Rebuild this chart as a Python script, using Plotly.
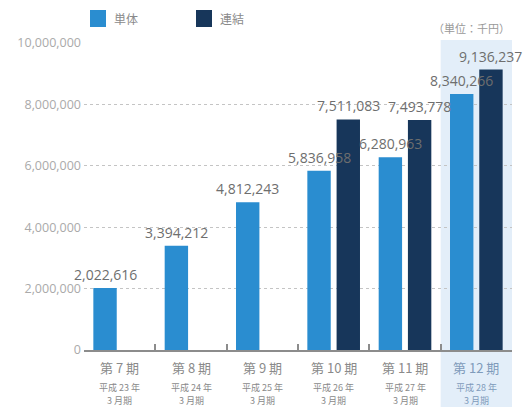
import plotly.graph_objects as go

# ---- data ----
periods = ["第 7 期", "第 8 期", "第 9 期", "第 10 期", "第 11 期", "第 12 期"]
fiscal_years = ["平成 23 年", "平成 24 年", "平成 25 年", "平成 26 年", "平成 27 年", "平成 28 年"]
fiscal_month = ["3 月期", "3 月期", "3 月期", "3 月期", "3 月期", "3 月期"]
standalone = [2022616, 3394212, 4812243, 5836958, 6280963, 8340266]
consolidated = [None, None, None, 7511083, 7493778, 9136237]
y_ticks = [0, 2000000, 4000000, 6000000, 8000000, 10000000]
series_names = ["単体", "連結"]
unit_label = "（単位：千円）"
highlight_period = "第 12 期"

# ---- styles ----
C_SINGLE = "#2a8dd0"
C_CONSOL = "#17365a"
C_HIGHLIGHT = "#e3eef9"
W, H = 526, 407
ML, MR, MT, MB = 84, 14, 43, 57
PW, PH = W - ML - MR, H - MT - MB
BARGAP, GROUPGAP = 0.18, 0.2
CJK = "Noto Sans CJK JP"
NUM = "Open Sans"


def fmt(v):
    return "" if v is None else f"{v:,}"


def px_x(px):
    return (px - ML) / PW


def px_y(py):
    return (H - MB - py) / PH


fig = go.Figure()
series = [standalone, consolidated]
colors = [C_SINGLE, C_CONSOL]
for name, vals, col in zip(series_names, series, colors):
    fig.add_trace(go.Bar(
        x=periods, y=vals, name=name,
        marker=dict(color=col, line=dict(width=0)),
        hoverinfo="x+y",
    ))

hi = periods.index(highlight_period)
shapes = [
    dict(type="rect", xref="x", yref="paper", x0=hi - 0.5, x1=hi + 0.5,
         y0=px_y(H), y1=px_y(40), fillcolor=C_HIGHLIGHT, line=dict(width=0),
         layer="below"),
    # legend swatches
    dict(type="rect", xref="paper", yref="paper", x0=px_x(90), x1=px_x(106),
         y0=px_y(27), y1=px_y(10), fillcolor=C_SINGLE, line=dict(width=0)),
    dict(type="rect", xref="paper", yref="paper", x0=px_x(196), x1=px_x(212),
         y0=px_y(27), y1=px_y(10), fillcolor=C_CONSOL, line=dict(width=0)),
]

annotations = [
    dict(xref="paper", yref="paper", x=px_x(112), y=px_y(19), text=series_names[0],
         showarrow=False, xanchor="left", yanchor="middle",
         font=dict(family=CJK, size=12, color="#8a8a8a")),
    dict(xref="paper", yref="paper", x=px_x(218), y=px_y(19), text=series_names[1],
         showarrow=False, xanchor="left", yanchor="middle",
         font=dict(family=CJK, size=12, color="#8a8a8a")),
    dict(xref="paper", yref="paper", x=px_x(512), y=px_y(28), text=unit_label,
         showarrow=False, xanchor="right", yanchor="middle",
         font=dict(family=CJK, size=11, color="#999999")),
]

# value labels above bars (drawn on top of all bars)
slot = PW / len(periods) * (1 - BARGAP) / len(series)
for s, vals in enumerate(series):
    offset = (s - (len(series) - 1) / 2) * slot
    for p, v in zip(periods, vals):
        if v is None:
            continue
        annotations.append(dict(xref="x", yref="y", x=p, y=v, xshift=offset, yshift=2,
                                text=fmt(v), showarrow=False, yanchor="bottom",
                                font=dict(family=NUM, size=14, color="#6e6e6e")))

# category labels
for i, p in enumerate(periods):
    col = "#7f9bbb" if p == highlight_period else "#8a8a8a"
    annotations.append(dict(xref="x", yref="y", x=p, y=0, yshift=-17, text=p,
                            showarrow=False, yanchor="middle",
                            font=dict(family=CJK, size=13, color=col)))
    annotations.append(dict(xref="x", yref="y", x=p, y=0, yshift=-37, text=fiscal_years[i],
                            showarrow=False, yanchor="middle",
                            font=dict(family=CJK, size=9, color=col)))
    annotations.append(dict(xref="x", yref="y", x=p, y=0, yshift=-50, text=fiscal_month[i],
                            showarrow=False, yanchor="middle",
                            font=dict(family=CJK, size=9, color=col)))

fig.update_layout(
    width=W, height=H,
    margin=dict(l=ML, r=MR, t=MT, b=MB, pad=0),
    paper_bgcolor="white", plot_bgcolor="rgba(0,0,0,0)",
    barmode="group", bargap=BARGAP, bargroupgap=GROUPGAP,
    showlegend=False,
    shapes=shapes, annotations=annotations,
)
fig.update_xaxes(
    type="category", categoryorder="array", categoryarray=periods,
    showticklabels=False, showgrid=False,
    showline=True, linecolor="#8c8c8c", linewidth=1.5,
    ticks="inside", tickson="boundaries", ticklen=6, tickcolor="#8c8c8c", tickwidth=1.5,
    range=[-0.5, len(periods) - 0.5],
)
fig.update_yaxes(
    range=[0, 10000000], tickvals=y_ticks, ticktext=[f"{v:,}" for v in y_ticks],
    showgrid=True, gridcolor="#c4c4c4", griddash="dot", gridwidth=1,
    zeroline=False, showline=False, ticks="",
    tickfont=dict(family=NUM, size=12.5, color="#aaaaaa"),
    ticklabelstandoff=2,
)

fig.write_html(
    "out.html",
    config={"displayModeBar": False},
    post_script="document.body.style.margin='0';document.body.style.overflow='hidden';",
)
